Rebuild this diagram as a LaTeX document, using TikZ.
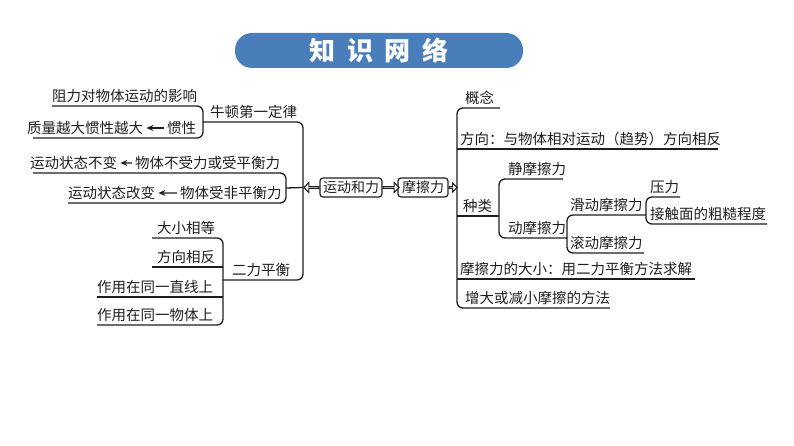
\documentclass[tikz,border=0pt]{standalone}
\usepackage{fontspec}
\setmainfont{Noto Sans CJK SC}
\usetikzlibrary{shapes.arrows,arrows.meta}
\definecolor{titleblue}{HTML}{4A7EBB}
\definecolor{ink}{HTML}{1E1E1E}
\begin{document}
\begin{tikzpicture}[x=1pt,y=-1pt,
  lbl/.style={anchor=base west, inner sep=0pt, font=\fontsize{14.5}{16}\selectfont, text=ink},
  ln/.style={draw=ink, line width=1.3pt},
  br/.style={draw=ink, line width=1.3pt, rounded corners=6pt},
  box/.style={draw=ink, line width=1.2pt, rounded corners=3pt, inner sep=0pt, minimum height=19pt, font=\fontsize{14}{16}\selectfont, text=ink},
  hollow/.style={single arrow, draw=ink, fill=white, line width=1pt, inner sep=0pt, minimum width=10pt, single arrow head extend=2.5pt},
  small/.style={-{Stealth[length=7pt,width=6pt]}, draw=ink, line width=1.3pt, shorten >=3pt, shorten <=3pt}]
\useasboundingbox (0,0) rectangle (794,446);

% title
\node[fill=titleblue, rounded corners=17pt, minimum width=288pt, minimum height=35pt,
      text=white, font=\fontsize{26}{28}\selectfont\bfseries] (title) at (379,50.5)
      {知\hspace{0.45em}识\hspace{0.45em}网\hspace{0.45em}络};

% ---------- left side ----------
\node[lbl] (zuli) at (52,101.5) {阻力对物体运动的影响};
\node[lbl] (zhiliang) at (27,133.5) {质量越大惯性越大};
\node[lbl] (guanxing) at (167,133.5) {惯性};
\node[lbl] (niudun) at (210,117.5) {牛顿第一定律};
\node[lbl] (bubian) at (30,168.5) {运动状态不变};
\node[lbl] (pingheng) at (135,168.5) {物体不受力或受平衡力};
\node[lbl] (gaibian) at (68,198.5) {运动状态改变};
\node[lbl] (feiping) at (180,198.5) {物体受非平衡力};
\node[lbl] (dengda) at (157,233.5) {大小相等};
\node[lbl] (xiangfan) at (157,262.5) {方向相反};
\node[lbl] (erli) at (232,275.5) {二力平衡};
\node[lbl] (zhixian) at (97,292.5) {作用在同一直线上};
\node[lbl] (wuti) at (97,320.5) {作用在同一物体上};

\draw[small] (guanxing.west) -- (zhiliang.east);
\draw[small] (pingheng.west) -- (bubian.east);
\draw[small] (feiping.west) -- (gaibian.east);

\draw[br] (52,106) -- (203,106) -- (203,138) -- (33,138);
\draw[br] (203,122) -- (303,122) -- (303,280) -- (223,280);
\draw[br] (33,173) -- (286,173) -- (286,203) -- (68,203);
\draw[br] (152,238) -- (223,238) -- (223,325) -- (97,325);
\draw[ln] (152,267) -- (223,267);
\draw[ln] (97,297) -- (223,297);
\coordinate (jL) at (286,188);

% ---------- centre ----------
\node[box, minimum width=62pt] (ydhl) at (351,187.5) {运动和力};
\node[box, minimum width=50pt] (mcl) at (423,187.5) {摩擦力};
\node[hollow, shape border rotate=180, minimum height=15pt, anchor=tail] (aL) at (ydhl.west) {};
\node[hollow, minimum height=16pt, anchor=tail] (aM) at (ydhl.east) {};
\node[hollow, minimum height=8pt, minimum width=9pt, single arrow head extend=2pt, anchor=tail] (aR) at (mcl.east) {};
\draw[ln] (jL) -- (aL.tip);

% ---------- right side ----------
\draw[br] (500,108) -- (457,108) -- (457,308) -- (610,308);
\node[lbl] (gainian) at (465,103.5) {概念};
\node[lbl] (fangxiang) at (460,144.5) {方向：与物体相对运动（趋势）方向相反};
\draw[ln] (457,149) -- (718,149);
\node[lbl] (zhonglei) at (463,211.5) {种类};
\draw[ln] (457,216) -- (499,216);
\draw[br] (563,179) -- (499,179) -- (499,238) -- (567,238);
\node[lbl] (jing) at (508,174.5) {静摩擦力};
\node[lbl] (dong) at (508,233.5) {动摩擦力};
\draw[br] (646,215) -- (567,215) -- (567,253) -- (644,253);
\node[lbl] (huadong) at (570,210.5) {滑动摩擦力};
\node[lbl] (gundong) at (570,248.5) {滚动摩擦力};
\draw[br] (680,197) -- (646,197) -- (646,224) -- (767,224);
\node[lbl] (yali) at (650,192.5) {压力};
\node[lbl] (jiechu) at (650,219.5) {接触面的粗糙程度};
\node[lbl] (daxiao) at (460,274.5) {摩擦力的大小：用二力平衡方法求解};
\draw[ln] (457,279) -- (695,279);
\node[lbl] (zengda) at (465,303.5) {增大或减小摩擦的方法};
\end{tikzpicture}
\end{document}
